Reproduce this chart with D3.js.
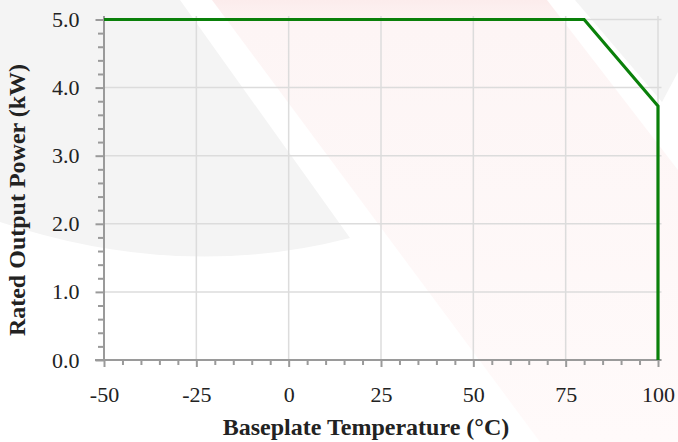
<!DOCTYPE html>
<html>
<head>
<meta charset="utf-8">
<script src="https://cdn.jsdelivr.net/npm/d3@7"></script>
<style>
  html, body { margin: 0; padding: 0; background: #fff; }
  svg { display: block; }
  text { font-family: "Liberation Serif", "Times New Roman", serif; fill: #222; }
</style>
</head>
<body>
<svg id="chart" width="678" height="442"></svg>
<script>
// Derating curve: rated output power vs. baseplate temperature
const temperature = [-50, 80, 100, 100];
const power = [5.0, 5.0, 3.73, 0.0];

const xTickValues = [-50, -25, 0, 25, 50, 75, 100];
const xTickLabels = ["-50", "-25", "0", "25", "50", "75", "100"];
const yTickValues = [0, 1, 2, 3, 4, 5];
const yTickLabels = ["0.0", "1.0", "2.0", "3.0", "4.0", "5.0"];
const xMinorStep = 5;
const yMinorStep = 0.2;

const xTitle = "Baseplate Temperature (°C)";
const yTitle = "Rated Output Power (kW)";

(function draw() {
  const svg = d3.select("#chart");
  const mLeft = 104, mRight = 658, mTop = 19.5, mBottom = 360;
  const overshoot = 3.5;

  const x = d3.scaleLinear().domain([-50, 100]).range([mLeft, mRight]);
  const y = d3.scaleLinear().domain([0, 5]).range([mBottom, mTop]);

  // faint background artwork
  const defs = svg.append("defs");
  const pinkGrad = defs.append("linearGradient").attr("id", "pinkFade")
    .attr("x1", 0).attr("y1", 0).attr("x2", 0).attr("y2", 1);
  pinkGrad.append("stop").attr("offset", "0%").attr("stop-color", "#fcecec");
  pinkGrad.append("stop").attr("offset", "6%").attr("stop-color", "#fdf5f5");
  pinkGrad.append("stop").attr("offset", "100%").attr("stop-color", "#fffafa");

  const bg = svg.append("g").attr("class", "backdrop");
  bg.append("path")
    .attr("d", "M0,0 L180,0 L350,238 Q180,282 0,222 Z")
    .attr("fill", "#f4f4f4");
  bg.append("path")
    .attr("d", "M212,0 L547,0 L678,170 L678,442 L540,442 Z")
    .attr("fill", "url(#pinkFade)");
  bg.append("path")
    .attr("d", "M575,0 L678,0 L678,72 L662,102 Z")
    .attr("fill", "#f4f4f4");

  // grid
  const grid = svg.append("g").attr("class", "grid")
    .attr("stroke", "#dcdcdc").attr("stroke-width", 1.5);
  grid.selectAll("line.v").data(xTickValues).join("line")
    .attr("class", "v")
    .attr("x1", d => x(d)).attr("x2", d => x(d))
    .attr("y1", mBottom).attr("y2", mTop - overshoot);
  grid.selectAll("line.h").data(yTickValues).join("line")
    .attr("class", "h")
    .attr("y1", d => y(d)).attr("y2", d => y(d))
    .attr("x1", mLeft).attr("x2", mRight + overshoot);

  // minor ticks
  const xMinor = d3.range(-50, 100 + 1e-9, xMinorStep).filter(v => !xTickValues.includes(v));
  const yMinor = d3.range(0, 5 + 1e-9, yMinorStep).map(v => +v.toFixed(1)).filter(v => !yTickValues.includes(v));

  const axisColor = "#9a9a9a";

  const xAxisG = svg.append("g").attr("transform", `translate(0,${mBottom})`);
  xAxisG.call(d3.axisBottom(x).tickValues(xMinor).tickSize(5).tickFormat(""));
  xAxisG.select(".domain").remove();
  const xMajorG = svg.append("g").attr("transform", `translate(0,${mBottom})`)
    .call(d3.axisBottom(x).tickValues(xTickValues).tickSize(7).tickPadding(19)
      .tickFormat((d, i) => xTickLabels[i]));
  xMajorG.select(".domain").remove();

  const yAxisG = svg.append("g").attr("transform", `translate(${mLeft},0)`);
  yAxisG.call(d3.axisLeft(y).tickValues(yMinor).tickSize(6).tickFormat(""));
  yAxisG.select(".domain").remove();
  const yMajorG = svg.append("g").attr("transform", `translate(${mLeft},0)`)
    .call(d3.axisLeft(y).tickValues(yTickValues).tickSize(8.5).tickPadding(16)
      .tickFormat((d, i) => yTickLabels[i]));
  yMajorG.select(".domain").remove();

  svg.selectAll(".tick line").attr("stroke", axisColor).attr("stroke-width", 2);
  svg.selectAll(".tick text")
    .attr("font-family", "'Liberation Serif', serif")
    .attr("font-size", 22).attr("fill", "#222");

  // axis lines
  svg.append("line")
    .attr("x1", mLeft - 9).attr("x2", mRight + overshoot)
    .attr("y1", mBottom).attr("y2", mBottom)
    .attr("stroke", axisColor).attr("stroke-width", 2);
  svg.append("line")
    .attr("x1", mLeft).attr("x2", mLeft)
    .attr("y1", mBottom).attr("y2", mTop - overshoot)
    .attr("stroke", axisColor).attr("stroke-width", 2);

  // curve
  const pts = temperature.map((t, i) => [t, power[i]]);
  svg.append("path")
    .datum(pts)
    .attr("fill", "none")
    .attr("stroke", "#0a800a")
    .attr("stroke-width", 3.2)
    .attr("stroke-linejoin", "miter")
    .attr("d", d3.line().x(d => x(d[0])).y(d => y(d[1])));

  // titles
  svg.append("text")
    .attr("x", 366).attr("y", 435)
    .attr("text-anchor", "middle")
    .attr("font-size", 24).attr("font-weight", "bold")
    .text(xTitle);
  svg.append("text")
    .attr("transform", "translate(25,200) rotate(-90)")
    .attr("text-anchor", "middle")
    .attr("font-size", 24).attr("font-weight", "bold")
    .text(yTitle);
})();
</script>
</body>
</html>
